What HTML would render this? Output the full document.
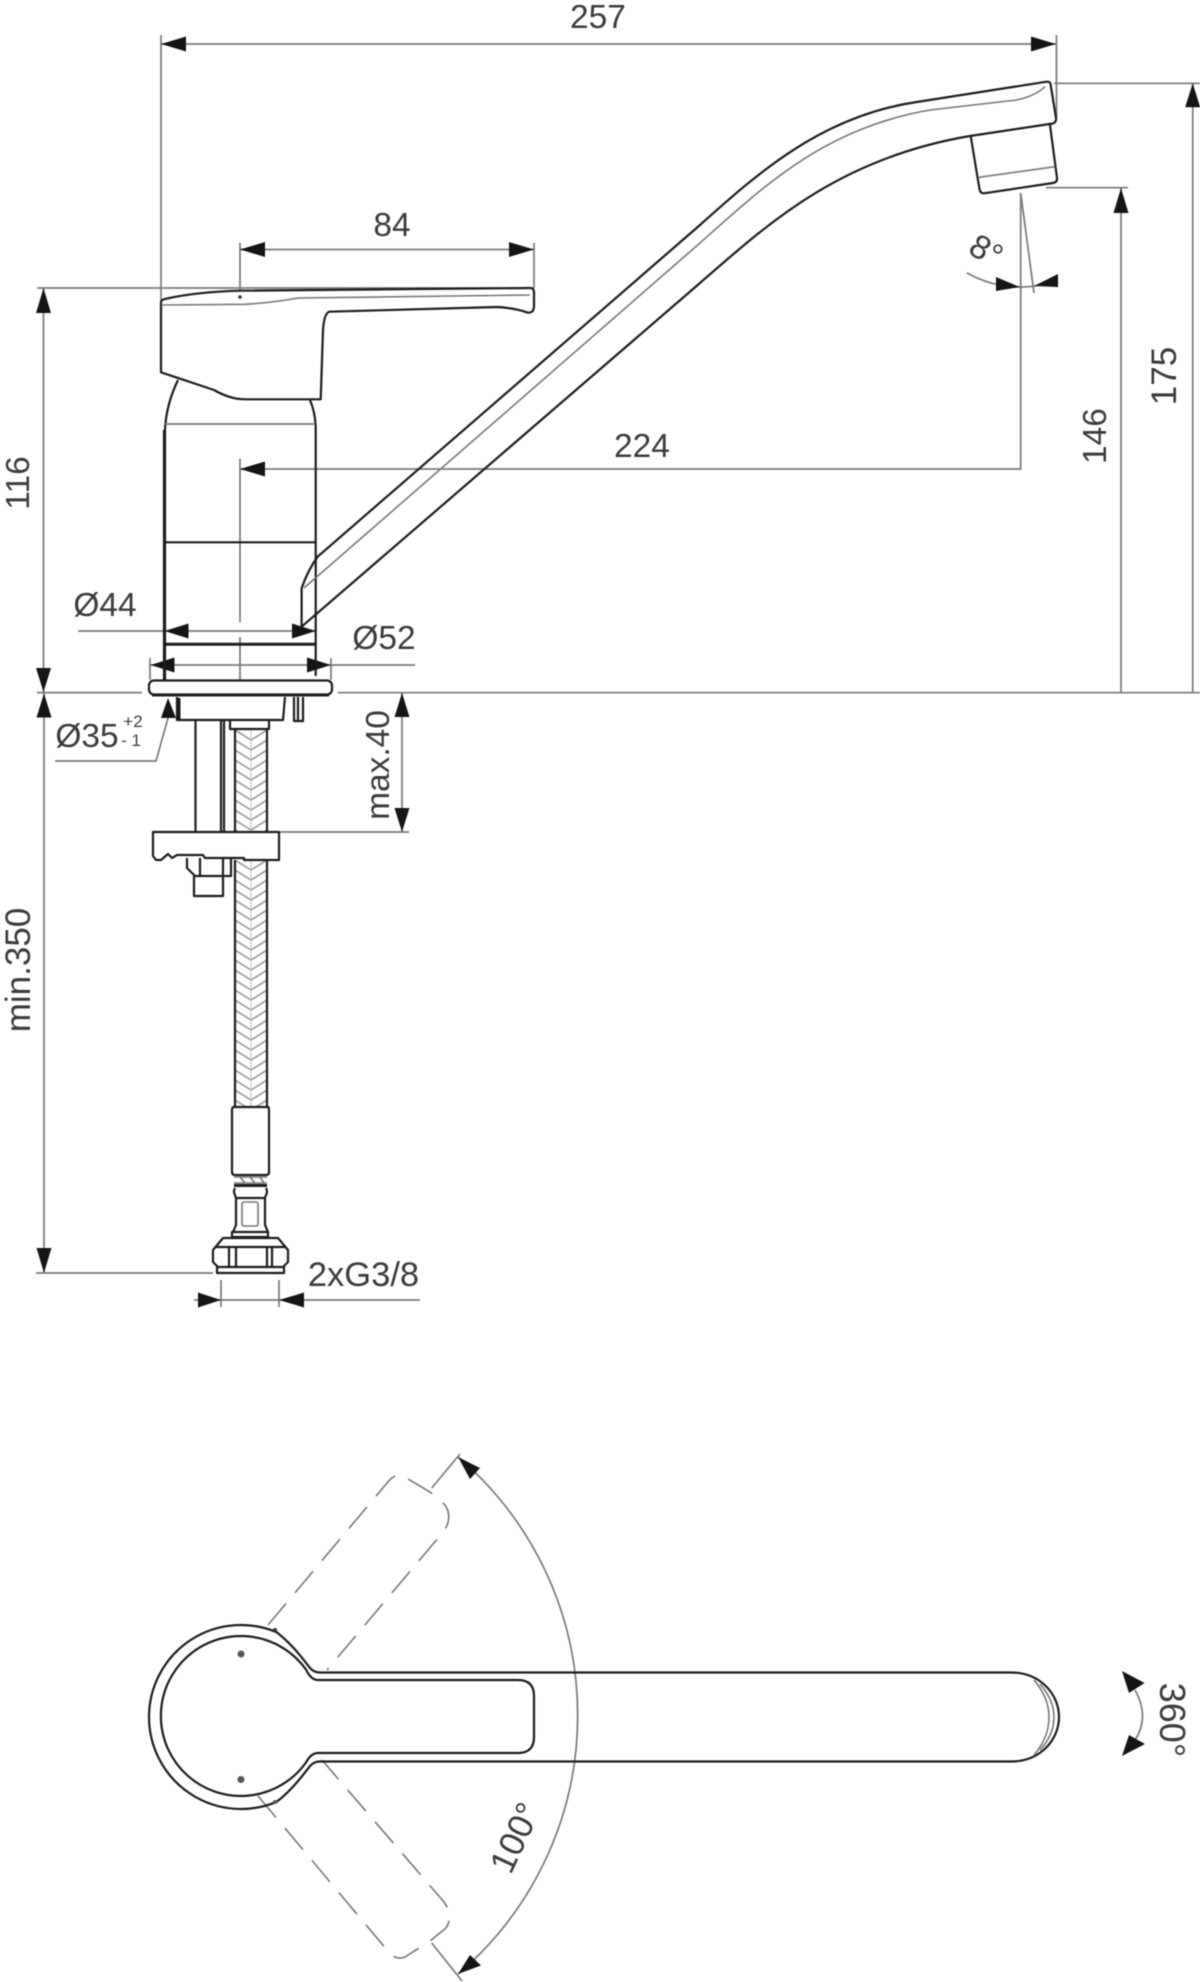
<!DOCTYPE html>
<html><head><meta charset="utf-8"><style>
html,body{margin:0;padding:0;background:#fff}
svg{display:block;filter:blur(.6px)}
text{font-family:"Liberation Sans",sans-serif;font-size:33.500px;fill:#3c3c3c;text-anchor:middle}
.d{stroke:#7a7a7a;stroke-width:1.7;fill:none}
.o{stroke:#1d1d1d;stroke-width:2.2;fill:none;stroke-linejoin:round}
.t{stroke:#1d1d1d;stroke-width:3;fill:none}
.m{stroke:#777;stroke-width:1.6;fill:none}
.k{fill:#151515;stroke:none}
</style></head><body>
<svg width="1200" height="1982" viewBox="0 0 1200 1982" xmlns="http://www.w3.org/2000/svg">
<defs>
<pattern id="h" width="32" height="20" patternUnits="userSpaceOnUse" x="235" y="730">
<path d="M0 0L16 10L32 0M0 10L16 20L32 10M0 -10L16 0L32 -10M0 20L16 30L32 20" stroke="#9a9a9a" stroke-width="1.600" fill="none"/>
<path d="M16 0V20" stroke="#c4c4c4" stroke-width="1" fill="none"/>
</pattern>
</defs>
<rect width="1200" height="1982" fill="#fff"/>

<!-- dimension lines -->
<path class="d" d="M161 35V300M1056.500 35V118M161 44H1056M240 243V291M534 243V288M240 249.500H534M37 288H534"/>
<path class="d" d="M43.500 288V693M37 692.700H142M338 692.700H1200M44 693V1273M36 1273H213"/>
<path class="d" d="M1054 83.300H1200M1192.700 83V693M1046 187.700H1128M1121 188V693"/>
<path class="d" d="M240 459V622M240 637V680M240 469H1020M1020.700 193V470M1020.700 193L1034 293"/>
<path class="d" d="M78 631H316M149 665H415M150 658V680M331 658V680"/>
<path class="d" d="M402 693V832M279 832H409"/>
<path class="d" d="M168 718L156 761H55"/>
<path class="d" d="M221 1280V1307M279 1280V1307M194 1300H420"/>
<path class="d" d="M966.700 272.700Q992 287 1020 287Q1040 287 1058 280"/>

<!-- arrowheads -->
<path class="k" d="M161 44l25 -7.500v15zM1056 44l-25 -7.500v15zM240 249.500l25 -7.500v15zM534 249.500l-25 -7.500v15z"/>
<path class="k" d="M43.500 288l7.500 25h-15zM43.500 692l7.500 -24h-15zM44 693.500l7.500 24h-15zM44 1273l7.500 -25h-15z"/>
<path class="k" d="M1192.700 83.300l7.500 24h-15zM1121 188l7.500 25h-15zM402 693l7.500 24h-15zM402 832l7.500 -24h-15z"/>
<path class="k" d="M240 469l25 -7.500v15zM1020 287l-24 -10v14zM1034 286l24 -12v13z"/>
<path class="k" d="M164.500 631l24 -7.500v15zM316 631l-24 -7.500v15zM150.500 665l24 -7.500v15zM331 665l-24 -7.500v15z"/>
<path class="k" d="M168 698l8 20h-15zM221 1300l-23 -7.500v15zM279 1300l25 -7.500v15z"/>

<!-- handle -->
<path class="o" d="M161 302V372.300L214 390Q230 399.300 245 399.300H320.700L323 330Q324 314 329 311.700L497.500 307Q515 308 528 312.700Q534 313 534 306V292Q534 288 530 288L240 290.700Q195 292 165 299Q161 300 161 302Z" stroke-width="2.500"/>
<path class="m" d="M162.600 305L245 304.300Q270 303 298.500 298L530 295"/>
<circle cx="240" cy="297" r="1.800" fill="#333"/>
<!-- body -->
<path class="o" d="M178 380Q166 405 165 430V680M310 400Q315 412 315.700 426V676"/>
<path class="d" d="M165 424H315"/>
<path class="o" d="M164 542.300H316"/>
<path class="t" d="M164 644.300H316" stroke-width="3.200"/>
<path class="o" d="M164 430V680"/>
<!-- spout -->
<path class="o" d="M317.600 556.700L700 225C755 176 820 116 916.700 102L1046.700 81.700Q1050 81.500 1050.500 84L1056 118Q1056.500 122 1053 123.500L970 136C840 158 770 222 700 283L301.600 626.700V588.300Q308 570 317.600 556.700Z" stroke-width="2.600"/>
<path class="m" d="M304 588L700 243C765 185 825 128 930 110L1016.700 100Q1035 96 1045 86.700"/>
<path class="o" d="M970.700 136L979.300 188Q980 193.500 984 193.300L1053 183Q1057.500 182 1057 178L1050 125"/>
<path class="m" d="M979 177.300L1055 166.700"/>

<!-- plate -->
<rect x="149" y="680.500" width="183" height="14" rx="5" fill="#fff" class="o"/>
<path class="t" d="M152 695H329"/>
<path class="d" d="M37 692.700H142"/>
<!-- below plate -->
<path class="o" d="M177 697V720H283L285 697"/>
<path class="t" d="M179 698V719"/>
<path class="o" d="M294 697V721H303V697M298 697V721"/>
<path class="o" d="M195.500 721V832M221 721V832M224 721V832"/>
<path class="o" d="M230 721V729H269V721"/>
<!-- hose -->
<rect x="235" y="730" width="32" height="102" fill="url(#h)"/>
<rect x="235" y="860" width="32" height="247" fill="url(#h)"/>
<path class="o" d="M235 730V832M267 730V832M235 860V1107M267 860V1107"/>
<!-- fastening plate -->
<path class="o" d="M153 832H279V860H244V858H205L203 855H177L172 858L168 854L161 860H156L153 856Z" fill="#fff"/>
<path class="o" d="M187 858V868L195 876H231V858M200 858V876M223 858V876M194 876V896H223V876"/>
<!-- hose end -->
<path class="o" d="M234 1107H268Q269 1107 269 1110V1172Q269 1175 266 1175H235Q232 1175 232 1172V1110Q232 1107 234 1107Z"/>
<path class="m" d="M234 1177H267M234 1183H267M240 1177L245 1183M250 1177L255 1183M260 1177L264 1183"/>
<path class="t" d="M234 1185.500H267" stroke-width="3.500"/>
<path class="o" d="M235 1188Q233 1192 235 1195L236 1198V1225L233 1232M266 1188Q268 1192 266 1195L265 1198V1225L268 1232M236 1198H265"/>
<rect class="m" x="242" y="1202" width="16" height="24" rx="2"/>
<path class="o" d="M232 1232H268V1237H232Z"/>
<path class="o" d="M223 1238H278L288 1250V1262L283 1267H218L213 1262V1250ZM216 1247H285M229 1247V1267M236 1247V1267M267 1247V1267M272 1247V1267"/>
<path class="o" d="M217 1267V1273H284V1267"/>

<!-- top view -->
<path class="m" d="M268 1625L387 1483Q395 1473 403 1476L430 1492L445 1505Q453 1517 444 1531L327 1670" stroke-dasharray="28 14"/>
<path class="m" d="M258 1796L387 1950Q395 1961 405 1957L430 1941L446 1928Q454 1916 444 1902L322 1760" stroke-dasharray="28 14"/>
<path class="d" d="M431.700 1488L460 1454M431.700 1943L462 1981"/>
<path class="d" d="M458 1457A339 339 0 0 1 458 1974" stroke="#888"/>
<path class="k" d="M458 1457L470 1479L480 1468ZM458 1974L470 1955L481 1965.500Z"/>

<path class="o" d="M276.700 1632.200A92 92 0 1 0 276.700 1801.800C292 1790 303 1775 310 1766Q314 1761.500 320 1761.500H1011C1040 1761.500 1059 1740 1059 1717C1059 1694 1040 1672.500 1011 1672.500H320Q314 1672.500 310 1668C303 1659 292 1644 276.700 1632.200Z" stroke-width="2.600"/>
<path class="o" d="M306 1669.500A80 80 0 1 0 306 1762.500Q311 1753 318 1753H518Q534 1753 534 1737V1696Q534 1680 518 1680H318Q311 1680 306 1669.500Z"/>
<path class="m" d="M1034 1680C1045 1693 1049 1705 1049 1717C1049 1730 1045 1742 1034 1755M1040 1684Q1054 1700 1054 1717Q1054 1735 1040 1750"/>
<circle cx="241" cy="1654" r="3.500" fill="#555"/>
<circle cx="241" cy="1779.500" r="3.500" fill="#555"/>
<circle cx="275" cy="1630" r="2" fill="#333"/>
<circle cx="275" cy="1802" r="2" fill="#555"/>

<path class="d" d="M1135 1690Q1150 1717 1135 1740"/>
<path class="k" d="M1122 1671L1129 1693L1144.600 1683ZM1122 1756L1129 1735L1145 1744Z"/>

<!-- labels -->
<text x="598" y="28">257</text>
<text x="392" y="236">84</text>
<text x="642" y="457">224</text>
<text x="105" y="616">Ø44</text>
<text x="384" y="649">Ø52</text>
<text x="87" y="747">Ø35</text>
<text x="133" y="727" style="font-size:17px">+2</text>
<text x="131" y="746" style="font-size:17px">- 1</text>
<text x="363.500" y="1286" style="font-size:34.500px">2xG3/8</text>
<text transform="translate(18 483) rotate(-90)" y="11">116</text>
<text transform="translate(18 970) rotate(-90)" y="12" style="font-size:35px">min.350</text>
<text transform="translate(378 765) rotate(-90)" y="11">max.40</text>
<text transform="translate(1095 436) rotate(-90)" y="11">146</text>
<text transform="translate(1165 376) rotate(-90)" y="11" style="font-size:35px">175</text>
<text transform="translate(986 251) rotate(30)" y="11">8°</text>
<text transform="translate(516 1838) rotate(-65)" y="11" style="font-size:35px">100°</text>
<text transform="translate(1172 1720) rotate(90)" y="12" style="font-size:36px">360°</text>
</svg>
</body></html>
